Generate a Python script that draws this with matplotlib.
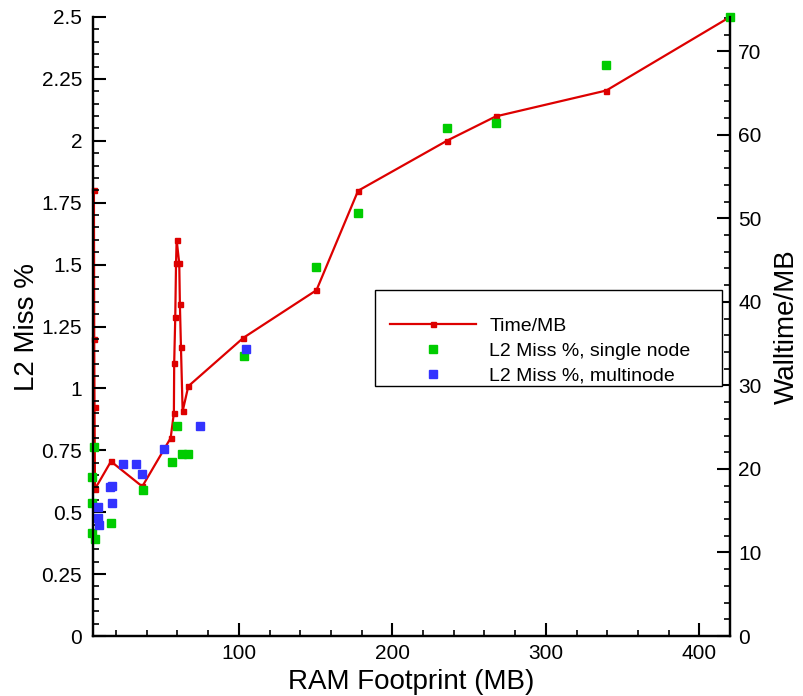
import numpy as np
import matplotlib
matplotlib.use("Agg")
import matplotlib.pyplot as plt
from matplotlib.patches import Rectangle
from matplotlib.ticker import MultipleLocator, FormatStrFormatter

plt.rcParams["font.family"] = ["Liberation Sans", "DejaVu Sans"]

# Time/MB (right axis, Walltime/MB)
time_x = [5.6, 5.8, 6.0, 6.3, 16.7, 37.1, 55.6, 57.7, 57.9, 58.6, 59.1, 59.5,
          61.2, 61.6, 62.3, 63.4, 67.1, 103.0, 150.6, 177.7, 235.7, 267.4, 339.4, 420.0]
time_mb = [53.4, 35.6, 27.4, 17.6, 20.9, 17.9, 23.7, 26.7, 32.7, 38.2, 44.6, 47.4,
           44.6, 39.8, 34.6, 26.9, 29.9, 35.7, 41.4, 53.3, 59.3, 62.2, 65.3, 74.1]

# L2 miss %, single node
single_x = [5.9, 4.3, 4.3, 4.3, 6.3, 16.7, 37.4, 56.2, 59.9, 62.8, 67.1,
            103.3, 150.6, 177.7, 235.7, 267.8, 339.4, 420.0]
single_l2 = [0.765, 0.643, 0.539, 0.418, 0.391, 0.455, 0.59, 0.703, 0.849, 0.734, 0.734,
             1.132, 1.489, 1.707, 2.052, 2.071, 2.307, 2.5]

# L2 miss %, multinode
multi_x = [8.5, 8.0, 8.9, 16.1, 17.6, 17.6, 24.7, 32.8, 36.7, 51.4, 74.7, 104.4]
multi_l2 = [0.52, 0.475, 0.45, 0.60, 0.607, 0.539, 0.694, 0.694, 0.654, 0.756, 0.849, 1.159]

RED = "#dd0000"
GREEN = "#00cc00"
BLUE = "#3333ff"


def style_axis(a):
    a.tick_params(which="major", direction="in", length=9.5, width=1.5, labelsize=15)
    a.tick_params(which="minor", direction="in", length=4.5, width=1.2)


fig = plt.figure(figsize=(8.04, 6.96), dpi=100)
ax = fig.add_axes([93.3 / 804, 1 - 636 / 696, (730 - 93.3) / 804, (636 - 17) / 696])
ax2 = ax.twinx()

line, = ax2.plot(time_x, time_mb, color=RED, lw=1.6, marker="s", ms=3.6,
                 label="Time/MB", clip_on=False)
sc1, = ax.plot(single_x, single_l2, ls="none", marker="s", ms=6.2, color=GREEN,
               label="L2 Miss %, single node", clip_on=False)
sc2, = ax.plot(multi_x, multi_l2, ls="none", marker="s", ms=6.2, color=BLUE,
               label="L2 Miss %, multinode", clip_on=False)

ax.set_zorder(ax2.get_zorder() + 1)
ax.patch.set_visible(False)

ax.set_xlim(5.2, 420)
ax.set_ylim(0, 2.5)
ax2.set_ylim(0, 74.1)

ax.xaxis.set_major_locator(MultipleLocator(100))
ax.xaxis.set_minor_locator(MultipleLocator(20))
ax.yaxis.set_major_locator(MultipleLocator(0.25))
ax.yaxis.set_minor_locator(MultipleLocator(0.05))
ax.yaxis.set_major_formatter(FormatStrFormatter("%g"))
ax2.yaxis.set_major_locator(MultipleLocator(10))
ax2.yaxis.set_minor_locator(MultipleLocator(2))

style_axis(ax)
style_axis(ax2)
ax.tick_params(axis="y", which="both", right=False, pad=8)
ax.tick_params(axis="x", which="both", top=False, pad=6)
ax2.tick_params(axis="y", which="both", pad=6)

for a in (ax, ax2):
    a.spines["top"].set_visible(False)
    for s in ("left", "right", "bottom"):
        a.spines[s].set_linewidth(1.6)

ax.set_xlabel("RAM Footprint (MB)", fontsize=20, labelpad=4)
ax.set_ylabel("L2 Miss %", fontsize=20, labelpad=1)
ax2.set_ylabel("Walltime/MB", fontsize=20, labelpad=9)

# legend box drawn separately so the padding matches (wide on top/right)
ax.add_patch(Rectangle((0.4424, 0.4039), 0.545, 0.1551, transform=ax.transAxes,
                       facecolor="white", edgecolor="black", lw=1.0, zorder=4,
                       clip_on=False))
leg = ax.legend(handles=[line, sc1, sc2], loc="upper left",
                bbox_to_anchor=(0.466, 0.5145), borderaxespad=0, borderpad=0,
                fontsize=14, frameon=False, handlelength=4.4, handletextpad=0.7,
                labelspacing=0.36)
leg.set_zorder(5)

fig.savefig("out.png", dpi=100)
